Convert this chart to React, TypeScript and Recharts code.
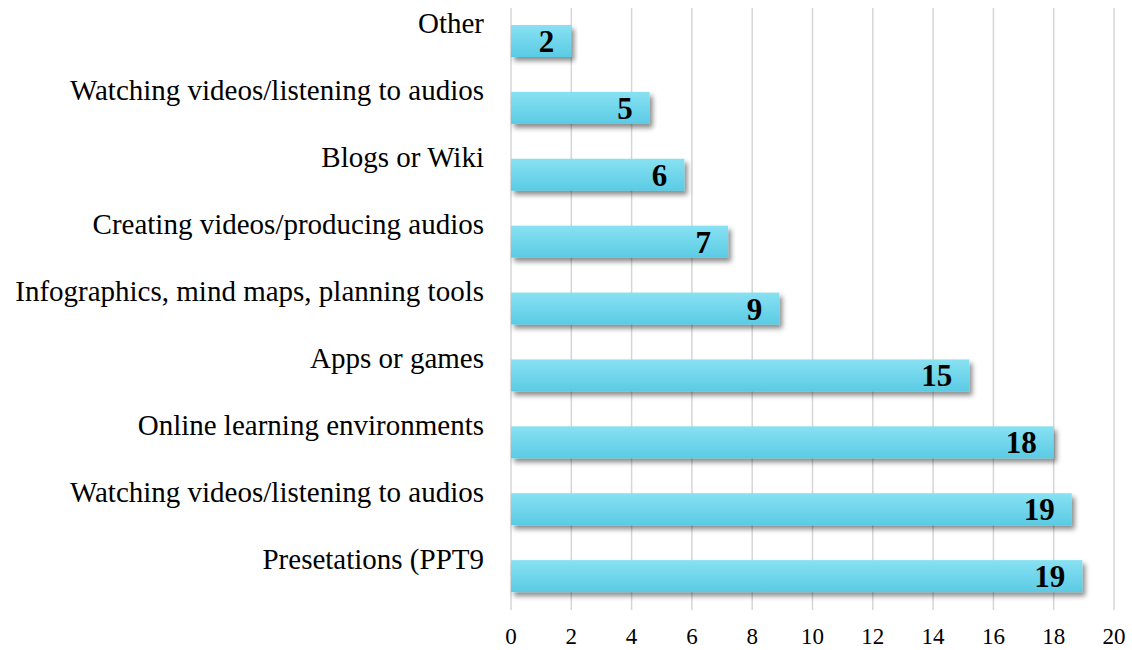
import React from 'react'
import { BarChart, Bar, XAxis, YAxis, CartesianGrid, LabelList } from 'recharts'

// categories, top to bottom
const categories = [
  'Other',
  'Watching videos/listening to audios',
  'Blogs or Wiki',
  'Creating videos/producing audios',
  'Infographics, mind maps, planning tools',
  'Apps or games',
  'Online learning environments',
  'Watching videos/listening to audios',
  'Presetations (PPT9',
]
// bar lengths as drawn in the picture
const barLengths = [2.0, 4.6, 5.75, 7.2, 8.9, 15.2, 18.0, 18.6, 18.95]
// printed labels
const valueLabels = ['2', '5', '6', '7', '9', '15', '18', '19', '19']
const xTicks = [0, 2, 4, 6, 8, 10, 12, 14, 16, 18, 20]

const FONT = '"Liberation Serif", "Times New Roman", serif'

const data = categories.map((name, i) => ({
  id: String(i),
  name,
  value: barLengths[i],
  label: valueLabels[i],
}))

function CatTick({ x, y, payload }: any) {
  const name = categories[Number(payload.value)]
  return (
    <text x={x - 19} y={y - 8} textAnchor="end" fontFamily={FONT} fontSize={29} fill="#000">
      {name}
    </text>
  )
}

function NumTick({ x, y, payload }: any) {
  return (
    <text x={x} y={y + 26} textAnchor="middle" fontFamily={FONT} fontSize={23} fill="#000">
      {payload.value}
    </text>
  )
}

function ShadowBar({ x, y, width, height }: any) {
  return (
    <rect x={x} y={y} width={width} height={height} fill="url(#barFill)" filter="url(#barShadow)" />
  )
}

function ValueLabel({ x, y, width, height, index }: any) {
  return (
    <text
      x={x + width - 17}
      y={y + height / 2 + 11}
      textAnchor="end"
      fontFamily={FONT}
      fontSize={31}
      fontWeight={700}
      fill="#000"
    >
      {valueLabels[index]}
    </text>
  )
}

export default function App() {
  return (
    <div style={{ position: 'absolute', left: 0, top: 0, background: '#fff' }}>
      <BarChart
        width={1132}
        height={650}
        data={data}
        layout="vertical"
        margin={{ top: 8, right: 18, bottom: 0, left: 0 }}
        barCategoryGap={35}
      >
        <defs>
          <linearGradient id="barFill" x1="0" y1="0" x2="0" y2="1">
            <stop offset="0%" stopColor="#88e1f2" />
            <stop offset="100%" stopColor="#5acbe4" />
          </linearGradient>
          <filter id="barShadow" x="-5%" y="-20%" width="115%" height="160%">
            <feDropShadow dx="3" dy="4" stdDeviation="2.5" floodColor="#000" floodOpacity="0.45" />
          </filter>
        </defs>
        <CartesianGrid horizontal={false} stroke="#d6d6d6" strokeWidth={1.5} />
        <XAxis
          type="number"
          domain={[0, 20]}
          ticks={xTicks}
          axisLine={false}
          tickLine={false}
          height={40}
          tick={<NumTick />}
          interval={0}
        />
        <YAxis
          type="category"
          dataKey="id"
          width={511}
          axisLine={false}
          tickLine={false}
          tick={<CatTick />}
          interval={0}
        />
        <Bar dataKey="value" barSize={32} shape={<ShadowBar />} isAnimationActive={false}>
          <LabelList dataKey="label" content={<ValueLabel />} />
        </Bar>
      </BarChart>
    </div>
  )
}
